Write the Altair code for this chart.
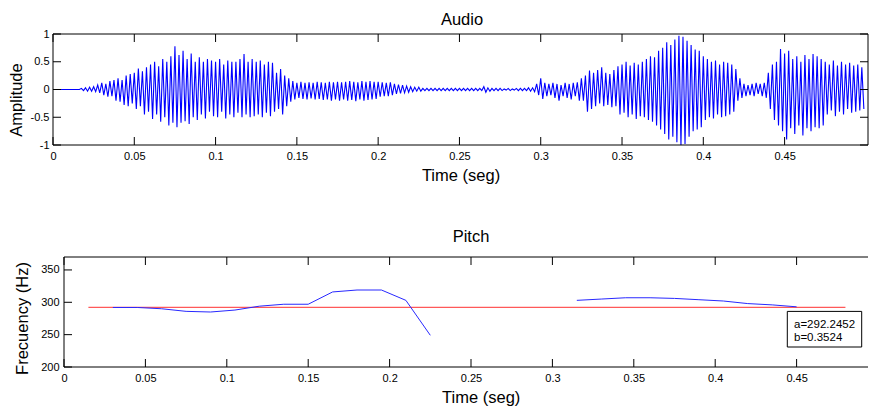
import altair as alt
import pandas as pd

# ---------------- data ----------------
# audio waveform envelope, sampled every 2.5 ms (upper / lower peaks)
audio_step = 0.0025
audio_upper = [
    0, 0, 0, 0, 0, 0, 0, 0.02, 0.03, 0.04,
    0.05, 0.08, 0.12, 0.1, 0.15, 0.17, 0.2, 0.17, 0.25, 0.28,
    0.3, 0.38, 0.33, 0.4, 0.45, 0.5, 0.42, 0.55, 0.5, 0.6,
    0.78, 0.62, 0.7, 0.55, 0.65, 0.5, 0.58, 0.5, 0.55, 0.52,
    0.5, 0.55, 0.45, 0.52, 0.5, 0.5, 0.55, 0.64, 0.5, 0.55,
    0.5, 0.52, 0.45, 0.5, 0.48, 0.3, 0.37, 0.25, 0.2, 0.15,
    0.12, 0.14, 0.12, 0.13, 0.12, 0.14, 0.13, 0.12, 0.14, 0.13,
    0.14, 0.13, 0.14, 0.15, 0.14, 0.13, 0.15, 0.14, 0.15, 0.14,
    0.14, 0.13, 0.12, 0.13, 0.1, 0.09, 0.08, 0.06, 0.05, 0.04,
    0.04, 0.02, 0.02, 0.02, 0.02, 0.02, 0.02, 0.02, 0.02, 0.02,
    0.02, 0.02, 0.02, 0.02, 0.02, 0.02, 0.05, 0.03, 0.02, 0.02,
    0.02, 0.01, 0.02, 0.01, 0.02, 0.02, 0.02, 0.03, 0.03, 0.1,
    0.2, 0.12, 0.1, 0.12, 0.1, 0.08, 0.12, 0.1, 0.12, 0.13,
    0.2, 0.25, 0.34, 0.3, 0.35, 0.4, 0.3, 0.28, 0.35, 0.42,
    0.45, 0.5, 0.43, 0.48, 0.45, 0.5, 0.55, 0.6, 0.58, 0.7,
    0.75, 0.85, 0.8, 0.9, 0.97, 0.95, 0.88, 0.8, 0.72, 0.7,
    0.6, 0.55, 0.5, 0.52, 0.45, 0.5, 0.48, 0.45, 0.37, 0.2,
    0.1, 0.08, 0.1, 0.12, 0.1, 0.12, 0.3, 0.45, 0.5, 0.73,
    0.65, 0.7, 0.55, 0.6, 0.5, 0.62, 0.55, 0.64, 0.6, 0.55,
    0.5, 0.45, 0.52, 0.43, 0.5, 0.45, 0.48, 0.43, 0.45, 0.4,
]
audio_lower = [
    0, 0, 0, 0, 0, 0, 0, -0.02, -0.03, -0.03,
    -0.04, -0.06, -0.1, -0.13, -0.12, -0.2, -0.22, -0.28, -0.3, -0.25,
    -0.35, -0.3, -0.45, -0.4, -0.53, -0.45, -0.58, -0.5, -0.65, -0.6,
    -0.68, -0.6, -0.57, -0.62, -0.5, -0.55, -0.45, -0.52, -0.4, -0.48,
    -0.5, -0.4, -0.52, -0.45, -0.5, -0.42, -0.5, -0.45, -0.5, -0.48,
    -0.45, -0.5, -0.42, -0.48, -0.4, -0.35, -0.45, -0.3, -0.22, -0.18,
    -0.15, -0.17, -0.18, -0.16, -0.18, -0.17, -0.19, -0.18, -0.2, -0.18,
    -0.2, -0.18, -0.2, -0.19, -0.21, -0.18, -0.2, -0.19, -0.18, -0.17,
    -0.13, -0.12, -0.12, -0.1, -0.08, -0.07, -0.06, -0.05, -0.04, -0.03,
    -0.03, -0.02, -0.02, -0.02, -0.02, -0.02, -0.02, -0.02, -0.02, -0.02,
    -0.02, -0.02, -0.02, -0.02, -0.02, -0.02, -0.05, -0.03, -0.02, -0.02,
    -0.02, -0.01, -0.02, -0.01, -0.02, -0.02, -0.02, -0.03, -0.04, -0.1,
    -0.17, -0.12, -0.1, -0.15, -0.2, -0.12, -0.15, -0.18, -0.12, -0.2,
    -0.2, -0.4, -0.35, -0.3, -0.25, -0.3, -0.28, -0.32, -0.3, -0.45,
    -0.42, -0.5, -0.45, -0.53, -0.48, -0.5, -0.55, -0.58, -0.65, -0.72,
    -0.8, -0.9, -0.85, -0.95, -1.0, -0.98, -0.85, -0.75, -0.72, -0.68,
    -0.55, -0.5, -0.52, -0.45, -0.5, -0.48, -0.45, -0.4, -0.2, -0.15,
    -0.12, -0.1, -0.12, -0.08, -0.12, -0.15, -0.35, -0.55, -0.65, -0.75,
    -0.9, -0.7, -0.8, -0.65, -0.83, -0.7, -0.75, -0.68, -0.7, -0.65,
    -0.45, -0.38, -0.48, -0.4, -0.45, -0.35, -0.42, -0.4, -0.38, -0.35,
]

# pitch track (two voiced segments)
pitch_t1 = [0.03, 0.045, 0.06, 0.075, 0.09, 0.105, 0.12, 0.135, 0.15, 0.165, 0.18, 0.195, 0.21, 0.225]
pitch_f1 = [292, 292, 290, 286, 285, 288, 294, 297, 297, 316, 319, 319, 303, 249]
pitch_t2 = [0.315, 0.33, 0.345, 0.36, 0.375, 0.39, 0.405, 0.42, 0.435, 0.45]
pitch_f2 = [303, 305, 307, 307, 306, 304, 302, 298, 296, 293]

# fitted constant line
fit_t = [0.015, 0.48]
fit_a = 292.2452
fit_label = "a=292.2452\nb=0.3524"

# ticks
audio_xticks = [0, 0.05, 0.1, 0.15, 0.2, 0.25, 0.3, 0.35, 0.4, 0.45]
audio_yticks = [-1, -0.5, 0, 0.5, 1]
pitch_xticks = [0, 0.05, 0.1, 0.15, 0.2, 0.25, 0.3, 0.35, 0.4, 0.45]
pitch_yticks = [200, 250, 300, 350]

# ---------------- styling ----------------
FONT = "Liberation Sans"
W = 815
H1 = 111
H2 = 110
SHIFT = 11          # bottom panel starts 11 px to the right of the top one
TL = 8              # inward tick length
BLUE = "#0000ff"

# ---------------- top panel: Audio ----------------
rows = []
for i, (u, l) in enumerate(zip(audio_upper, audio_lower)):
    t0 = i * audio_step
    rows.append({"t": t0, "amp": u, "k": 2 * i})
    rows.append({"t": t0 + audio_step / 2, "amp": l, "k": 2 * i + 1})
audio_df = pd.DataFrame(rows)

xs1 = alt.Scale(domain=[0, 0.5013], nice=False, zero=False)
ys1 = alt.Scale(domain=[-1, 1], nice=False, zero=False)

x_axis1 = alt.Axis(
    values=audio_xticks, labelExpr="'' + datum.value", ticks=False, domain=False,
    grid=False, labelFontSize=11, labelPadding=5, labelColor="black",
    labelFlush=False, labelOverlap=False,
    title="Time (seg)", titleFontSize=16.5, titleFontWeight="normal",
    titleColor="black", titleY=35, titleBaseline="alphabetic",
)
y_axis1 = alt.Axis(
    values=audio_yticks, labelExpr="'' + datum.value", ticks=False, domain=False,
    grid=False, labelFontSize=11, labelPadding=4, labelColor="black",
    labelFlush=False, labelOverlap=False,
    title="Amplitude", titleFontSize=16.5, titleFontWeight="normal",
    titleColor="black", titleAngle=270, titleX=-31.5, titleY=65.5,
    titleAlign="center", titleBaseline="alphabetic",
)

X1 = alt.X("t:Q", scale=xs1, axis=x_axis1)
Y1 = alt.Y("amp:Q", scale=ys1, axis=y_axis1)

wave = alt.Chart(audio_df).mark_line(color=BLUE, strokeWidth=1.1).encode(
    x=X1, y=Y1, order="k:Q",
)

xt1 = pd.DataFrame({"t": audio_xticks})
yt1 = pd.DataFrame({"amp": audio_yticks})
one = pd.DataFrame({"k": [0]})
title1 = pd.DataFrame({"txt": ["Audio"]})
title2 = pd.DataFrame({"txt": ["Pitch"]})

top_layers = [
    wave,
    alt.Chart(xt1).mark_rule(color="black").encode(x=X1, y=alt.value(0), y2=alt.value(TL)),
    alt.Chart(xt1).mark_rule(color="black").encode(x=X1, y=alt.value(H1 - TL), y2=alt.value(H1)),
    alt.Chart(yt1).mark_rule(color="black").encode(y=Y1, x=alt.value(0), x2=alt.value(TL)),
    alt.Chart(yt1).mark_rule(color="black").encode(y=Y1, x=alt.value(W - TL), x2=alt.value(W)),
    alt.Chart(one).mark_rule(color="black").encode(x=alt.value(0), x2=alt.value(W), y=alt.value(0)),
    alt.Chart(one).mark_rule(color="black").encode(x=alt.value(0), x2=alt.value(W), y=alt.value(H1)),
    alt.Chart(one).mark_rule(color="black").encode(x=alt.value(0), y=alt.value(0), y2=alt.value(H1)),
    alt.Chart(one).mark_rule(color="black").encode(x=alt.value(W), y=alt.value(0), y2=alt.value(H1)),
    alt.Chart(title1).mark_text(align="center", baseline="alphabetic", font=FONT,
                                fontSize=16.5, color="black").encode(
        text="txt:N", x=alt.value(W / 2 + 1.5), y=alt.value(-9)),
]
top = alt.layer(*top_layers).properties(width=W, height=H1)

# ---------------- bottom panel: Pitch ----------------
pitch_df = pd.DataFrame(
    {"t": pitch_t1 + pitch_t2,
     "f": pitch_f1 + pitch_f2,
     "seg": [1] * len(pitch_t1) + [2] * len(pitch_t2)}
)
fit_df = pd.DataFrame({"t": fit_t, "f": [fit_a] * len(fit_t)})

xs2 = alt.Scale(domain=[0, 0.5], range=[SHIFT, SHIFT + 814], nice=False, zero=False)
ys2 = alt.Scale(domain=[200, 370], nice=False, zero=False)

x_axis2 = alt.Axis(
    values=pitch_xticks, labelExpr="'' + datum.value", ticks=False, domain=False,
    grid=False, labelFontSize=11, labelPadding=5, labelColor="black",
    labelFlush=False, labelOverlap=False,
    title="Time (seg)", titleFontSize=16.5, titleFontWeight="normal",
    titleColor="black", titleX=427.7, titleY=35.5, titleBaseline="alphabetic",
)
y_axis2 = alt.Axis(
    values=pitch_yticks, labelExpr="'' + datum.value", ticks=False, domain=False,
    grid=False, labelFontSize=11, labelPadding=5, labelColor="black",
    labelFlush=False, labelOverlap=False, offset=-SHIFT,
    title="Frecuency (Hz)", titleFontSize=16.5, titleFontWeight="normal",
    titleColor="black", titleAngle=270, titleX=-36.7, titleY=61,
    titleAlign="center", titleBaseline="alphabetic",
)

X2 = alt.X("t:Q", scale=xs2, axis=x_axis2)
Y2 = alt.Y("f:Q", scale=ys2, axis=y_axis2)

fit_line = alt.Chart(fit_df).mark_line(color="#ff3030", strokeWidth=1).encode(x=X2, y=Y2)
pitch_line = alt.Chart(pitch_df).mark_line(color="#2828ff", strokeWidth=1).encode(
    x=X2, y=Y2, detail="seg:N",
)

xt2 = pd.DataFrame({"t": pitch_xticks})
yt2 = pd.DataFrame({"f": pitch_yticks})
label_df = pd.DataFrame({"txt": [fit_label]})

bottom_layers = [
    fit_line,
    pitch_line,
    alt.Chart(xt2).mark_rule(color="black").encode(x=X2, y=alt.value(0), y2=alt.value(TL)),
    alt.Chart(xt2).mark_rule(color="black").encode(x=X2, y=alt.value(H2 - TL), y2=alt.value(H2)),
    alt.Chart(yt2).mark_rule(color="black").encode(y=Y2, x=alt.value(SHIFT), x2=alt.value(SHIFT + TL)),
    alt.Chart(one).mark_rule(color="black").encode(x=alt.value(SHIFT), x2=alt.value(W), y=alt.value(0)),
    alt.Chart(one).mark_rule(color="black").encode(x=alt.value(SHIFT), x2=alt.value(W), y=alt.value(H2)),
    alt.Chart(one).mark_rule(color="black").encode(x=alt.value(SHIFT), y=alt.value(0), y2=alt.value(H2)),
    alt.Chart(one).mark_rect(fill="white", stroke="black", strokeWidth=1).encode(
        x=alt.value(734.3), x2=alt.value(808.7), y=alt.value(54.4), y2=alt.value(90)),
    alt.Chart(label_df).mark_text(
        align="left", baseline="alphabetic", font=FONT, fontSize=11.5, color="black",
        lineBreak="\n", lineHeight=13.4,
    ).encode(text="txt:N", x=alt.value(741), y=alt.value(71)),
    alt.Chart(title2).mark_text(align="center", baseline="alphabetic", font=FONT,
                                fontSize=16.5, color="black").encode(
        text="txt:N", x=alt.value(418), y=alt.value(-14.6)),
]
bottom = alt.layer(*bottom_layers).properties(width=W, height=H2)

chart = alt.vconcat(top, bottom, spacing=44).properties(
    padding={"left": 8, "top": 11, "right": 0, "bottom": 0},
    background="white",
).configure_view(stroke="transparent").configure_axis(
    labelFont=FONT, titleFont=FONT, labelOverlap=False, labelFlush=False
).configure_title(font=FONT)

chart.save("out.html", embed_options={"renderer": "svg", "actions": False})
